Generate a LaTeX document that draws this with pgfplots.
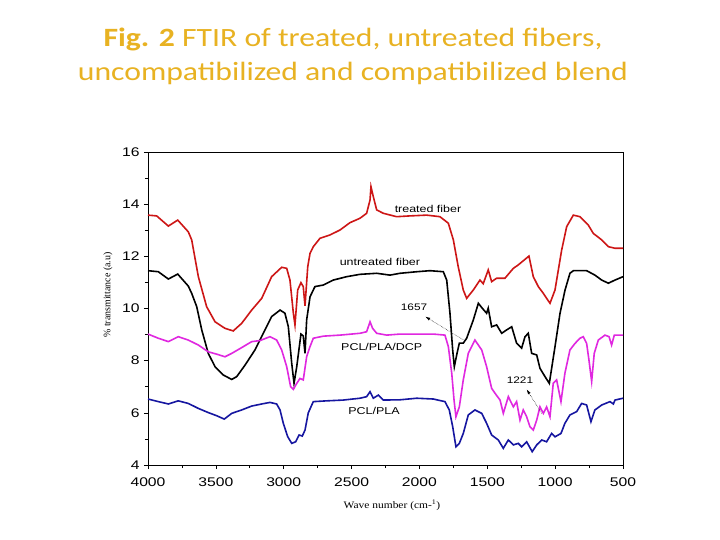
\documentclass[border=0pt]{standalone}
\usepackage{fontspec}
\setmainfont{Liberation Sans}
\newfontfamily\titlefont{Carlito}
\newfontfamily\labelserif{Liberation Serif}
\usepackage{pgfplots}
\pgfplotsset{compat=1.18}
\usetikzlibrary{arrows.meta}

\definecolor{titlegold}{RGB}{232,178,34}
\definecolor{fibred}{RGB}{205,22,22}
\definecolor{dcpmag}{RGB}{224,40,224}
\definecolor{blendblue}{RGB}{22,22,160}

% FTIR spectra: wavenumber (cm^-1), transmittance (a.u.)
\pgfplotstableread{
x y
4000 13.58
3936 13.55
3850 13.16
3781 13.39
3703 12.94
3678 12.63
3629 11.22
3568 10.07
3506 9.49
3433 9.24
3372 9.14
3310 9.43
3236 9.94
3162 10.39
3089 11.22
3015 11.58
2978 11.54
2954 11.09
2929 9.82
2917 9.37
2897 10.71
2873 10.99
2856 10.84
2843 10.10
2823 11.60
2806 12.12
2782 12.37
2733 12.69
2659 12.82
2585 13.01
2512 13.29
2438 13.46
2389 13.65
2364 14.16
2357 14.67
2340 14.29
2315 13.78
2266 13.65
2168 13.52
2070 13.55
1947 13.58
1849 13.52
1787 13.27
1750 12.63
1714 11.60
1677 10.71
1652 10.39
1603 10.71
1554 11.09
1530 10.95
1493 11.48
1468 11.03
1431 11.16
1370 11.16
1308 11.54
1272 11.67
1193 12.01
1161 11.22
1124 10.84
1087 10.58
1038 10.20
1001 10.71
952 12.24
915 13.14
866 13.58
817 13.52
756 13.20
719 12.88
657 12.63
608 12.37
559 12.31
500 12.31
}\treated

\pgfplotstableread{
x y
4000 11.45
3924 11.41
3850 11.13
3781 11.32
3703 10.86
3678 10.58
3641 10.07
3604 9.18
3556 8.28
3506 7.77
3445 7.45
3383 7.28
3346 7.39
3285 7.83
3212 8.41
3138 9.18
3089 9.69
3027 9.94
2991 9.82
2966 9.30
2941 7.90
2924 7.13
2904 7.77
2873 9.02
2856 8.95
2843 8.28
2831 9.56
2806 10.45
2770 10.84
2708 10.90
2635 11.09
2536 11.22
2438 11.31
2315 11.35
2217 11.28
2143 11.35
2020 11.41
1922 11.45
1824 11.41
1799 11.09
1775 9.82
1755 8.41
1743 7.77
1723 8.28
1706 8.67
1677 8.67
1652 8.86
1603 9.56
1566 10.20
1537 10.01
1505 9.82
1493 10.01
1468 9.30
1431 9.37
1394 9.05
1357 9.18
1320 9.30
1284 8.67
1247 8.48
1222 8.92
1198 9.05
1173 8.28
1136 8.22
1112 7.71
1075 7.39
1043 7.13
1001 8.54
964 9.82
927 10.71
891 11.35
866 11.45
768 11.45
707 11.28
657 11.09
608 10.97
559 11.09
500 11.22
}\untreated

\pgfplotstableread{
x y
4000 9.02
3924 8.86
3850 8.73
3777 8.92
3703 8.79
3629 8.60
3556 8.34
3494 8.25
3433 8.15
3383 8.28
3310 8.50
3236 8.73
3175 8.77
3101 8.92
3052 8.79
3015 8.41
2978 7.77
2949 7.00
2929 6.90
2904 7.13
2880 7.32
2856 7.26
2831 8.15
2806 8.54
2782 8.86
2708 8.94
2585 8.98
2438 9.05
2389 9.11
2364 9.49
2345 9.24
2315 9.05
2241 8.98
2143 9.02
2020 9.02
1898 9.02
1812 8.98
1787 8.54
1762 7.52
1745 6.49
1731 5.85
1706 6.23
1677 7.26
1640 8.28
1591 8.79
1541 8.41
1505 7.77
1468 6.94
1443 6.75
1406 6.49
1382 5.98
1345 6.62
1308 6.23
1284 6.43
1259 5.72
1235 6.11
1210 5.85
1186 5.47
1161 5.34
1136 5.72
1112 6.23
1087 5.98
1063 6.23
1038 5.85
1014 7.13
989 7.26
957 6.43
928 7.52
891 8.41
854 8.66
817 8.86
793 8.92
768 8.66
751 8.03
731 7.20
712 8.28
682 8.79
633 8.98
603 8.92
584 8.60
564 8.98
500 8.98
}\dcpblend

\pgfplotstableread{
x y
4000 6.53
3924 6.43
3850 6.34
3777 6.46
3703 6.36
3629 6.17
3556 6.01
3494 5.89
3438 5.76
3383 5.98
3310 6.11
3236 6.26
3162 6.34
3101 6.40
3052 6.34
3027 6.11
3003 5.60
2971 5.09
2941 4.83
2912 4.89
2887 5.15
2863 5.11
2843 5.34
2819 6.00
2782 6.43
2683 6.46
2561 6.49
2438 6.56
2389 6.62
2364 6.81
2340 6.56
2303 6.68
2266 6.49
2143 6.50
2020 6.56
1898 6.53
1812 6.43
1780 6.11
1755 5.47
1731 4.70
1706 4.83
1677 5.21
1640 5.92
1591 6.11
1541 5.98
1505 5.60
1468 5.15
1419 4.96
1382 4.64
1345 4.96
1308 4.77
1272 4.83
1247 4.70
1210 4.89
1169 4.51
1136 4.77
1099 4.96
1063 4.89
1026 5.21
1001 5.08
957 5.21
928 5.60
891 5.92
841 6.05
805 6.36
768 6.30
736 5.66
707 6.11
657 6.30
596 6.43
571 6.34
559 6.49
500 6.56
}\plainblend

\begin{document}
\begin{tikzpicture}[x=1bp,y=1bp]
\path[use as bounding box, fill=white] (0,0) rectangle (720,-540);

\node[text=titlegold, align=center, inner sep=0pt] at (353,-56)
  {\scalebox{1.2}[1]{\titlefont\fontsize{26.5}{35}\selectfont\textbf{Fig. 2} FTIR of treated, untreated fibers,}\\[10bp]
   \scalebox{1.2}[1]{\titlefont\fontsize{26.5}{35}\selectfont uncompatibilized and compatibilized blend}};

\begin{axis}[
  at={(148bp,-465bp)}, anchor=south west,
  scale only axis, width=475bp, height=313bp,
  x dir=reverse,
  xmin=500, xmax=4000, ymin=4, ymax=16,
  xtick={500,1000,...,4000}, ytick={4,6,...,16},
  minor x tick num=1, minor y tick num=1,
  xtick pos=bottom, ytick pos=left,
  tick align=outside,
  major tick length=4bp, minor tick length=3bp,
  axis line style={line width=0.8bp},
  every tick/.style={black, line width=0.6bp},
  /pgf/number format/assume math mode=true,
  /pgf/number format/1000 sep={},
  tick label style={font=\fontsize{12.6}{14}\selectfont, xscale=1.25},
  xticklabel style={yshift=-5bp},
  clip=false,
]
\addplot[fibred, line width=1.6bp] table[x=x,y=y] {\treated};
\addplot[black, line width=1.6bp] table[x=x,y=y] {\untreated};
\addplot[dcpmag, line width=1.6bp] table[x=x,y=y] {\dcpblend};
\addplot[blendblue, line width=1.6bp] table[x=x,y=y] {\plainblend};

\node[font=\fontsize{10}{12}\selectfont, xscale=1.25] at (axis cs:1937,13.81) {treated fiber};
\node[font=\fontsize{10}{12}\selectfont, xscale=1.25] at (axis cs:2291,11.79) {untreated fiber};
\node[font=\fontsize{10}{12}\selectfont, xscale=1.25] at (axis cs:2278,8.54) {PCL/PLA/DCP};
\node[font=\fontsize{10}{12}\selectfont, xscale=1.25] at (axis cs:2335,6.08) {PCL/PLA};
\node[font=\fontsize{9.5}{11}\selectfont, xscale=1.25] at (axis cs:2040,10.03) {1657};
\node[font=\fontsize{9.5}{11}\selectfont, xscale=1.25] at (axis cs:1259,7.26) {1221};
\draw[densely dotted, line width=0.5bp, -{Latex[length=5bp,width=3bp]}] (axis cs:1677,8.80) -- (axis cs:1957,9.69);
\draw[densely dotted, line width=0.5bp, -{Latex[length=5bp,width=3bp]}] (axis cs:1099,5.98) -- (axis cs:1210,6.90);
\end{axis}

\node[rotate=90, font=\labelserif\fontsize{10}{12}\selectfont] at (108,-295) {\% transmittance (a.u)};
\node[font=\labelserif\fontsize{10}{12}\selectfont, xscale=1.15] at (392,-505) {Wave number (cm-\textsuperscript{1})};
\end{tikzpicture}
\end{document}
